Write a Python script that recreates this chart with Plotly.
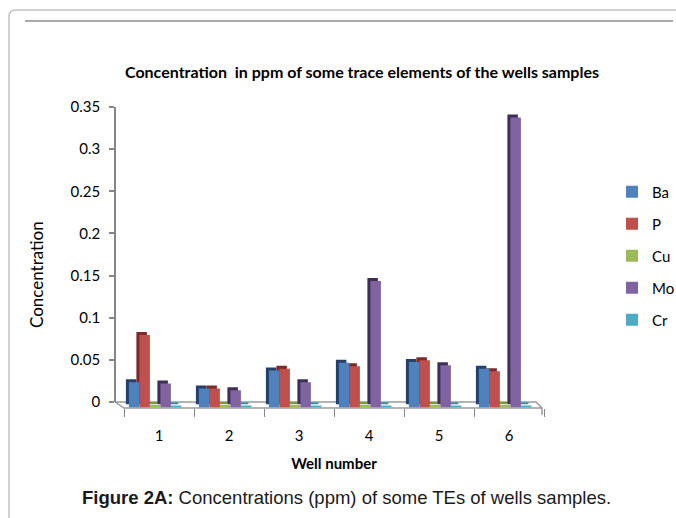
import plotly.graph_objects as go

# ---- data -------------------------------------------------------------
wells = ["1", "2", "3", "4", "5", "6"]
elements = ["Ba", "P", "Cu", "Mo", "Cr"]
ba = [0.030, 0.0225, 0.044, 0.053, 0.054, 0.046]
p = [0.086, 0.0225, 0.046, 0.049, 0.056, 0.043]
cu = [0.003, 0.003, 0.003, 0.003, 0.003, 0.003]
mo = [0.0285, 0.0205, 0.030, 0.150, 0.050, 0.344]
cr = [0.002, 0.002, 0.002, 0.002, 0.002, 0.002]
series = [ba, p, cu, mo, cr]

# ---- style ------------------------------------------------------------
face_colors = ["#4F81BD", "#C0504D", "#9BBB59", "#8064A2", "#4BACC6"]
side_colors = ["#24406B", "#7D2B29", "#7A9A40", "#3E2F57", "#2C8AA3"]
FONT = "Lato, Carlito, 'Open Sans', sans-serif"
W, H = 676, 518
ML, MR, MT, MB = 100, 120, 100, 100
PW, PH = W - ML - MR, H - MT - MB


def px_x(px):
    return (px - ML) / PW


def px_y(py):
    return (H - MB - py) / PH


bar_w = 0.15
depth_dx = 3 / 70.0  # extrusion shift toward the back, in category units

fig = go.Figure()

# back/side faces of the 3-D columns (drawn first, slightly up-left)
for i, (name, vals) in enumerate(zip(elements, series)):
    fig.add_trace(go.Bar(
        x=wells, y=vals, name=name, showlegend=False, hoverinfo="skip",
        xaxis="x", yaxis="y",
        width=bar_w, offset=-0.43 + bar_w * i - depth_dx,
        marker=dict(color=side_colors[i], line=dict(width=0)),
    ))

# front faces of the columns
for i, (name, vals) in enumerate(zip(elements, series)):
    fig.add_trace(go.Bar(
        x=wells, y=vals, name=name, legendgroup=name,
        xaxis="x", yaxis="y2",
        width=bar_w, offset=-0.43 + bar_w * i,
        marker=dict(color=face_colors[i], line=dict(width=0)),
    ))

# value axis on the back wall
fig.add_trace(go.Scatter(x=[], y=[], xaxis="x", yaxis="y3",
                         showlegend=False, hoverinfo="skip"))

axis_grey = "#868686"
hidden_y = dict(range=[0, 0.35], visible=False, showgrid=False, zeroline=False)

fig.update_layout(
    width=W, height=H,
    margin=dict(l=ML, r=MR, t=MT, b=MB, autoexpand=False),
    paper_bgcolor="white", plot_bgcolor="rgba(0,0,0,0)",
    barmode="overlay",
    font=dict(family=FONT, size=15, color="#000"),
    title=dict(
        text="<b>Concentration  in ppm of some trace elements of the wells samples</b>",
        x=362 / W, y=1 - 72 / H, xanchor="center", yanchor="middle",
        font=dict(family=FONT, size=16, color="#000"),
    ),
    xaxis=dict(
        type="category", range=[-0.5, 5.5],
        domain=[px_x(124), px_x(544)], anchor="y2",
        showline=False, showgrid=False, zeroline=False,
        ticks="outside", tickson="boundaries", ticklen=8,
        tickcolor=axis_grey, tickwidth=1,
        ticklabelstandoff=17,
        tickfont=dict(size=15),
        title=dict(text="<b>Well number</b>", standoff=15,
                   font=dict(size=15)),
    ),
    yaxis=dict(domain=[px_y(404.5), px_y(109.5)], anchor="x", **hidden_y),
    yaxis2=dict(domain=[px_y(407.5), px_y(112.5)], anchor="x", **hidden_y),
    yaxis3=dict(
        domain=[px_y(402), px_y(107)], anchor="free", position=px_x(115),
        range=[0, 0.35], dtick=0.05, tick0=0,
        showline=True, linecolor=axis_grey, linewidth=1.5,
        ticks="outside", ticklen=5, tickcolor=axis_grey, tickwidth=1.5,
        showgrid=False, zeroline=False,
        ticklabelstandoff=6,
        tickfont=dict(size=15),
    ),
    legend=dict(
        x=px_x(612), y=px_y(256), xanchor="left", yanchor="middle",
        traceorder="grouped", tracegroupgap=9.5,
        font=dict(size=15), bgcolor="rgba(0,0,0,0)",
    ),
)

# value-axis title
fig.add_annotation(
    text="Concentration", textangle=-90,
    xref="paper", yref="paper", x=px_x(36), y=px_y(275),
    xanchor="center", yanchor="middle", showarrow=False,
    font=dict(family=FONT, size=17, color="#000"),
)

# floor slab under the columns
floor_path = (
    f"M {px_x(115)},{px_y(402)} L {px_x(536)},{px_y(402)} "
    f"L {px_x(542)},{px_y(408)} L {px_x(542)},{px_y(415)} "
    f"M {px_x(542)},{px_y(408)} L {px_x(124)},{px_y(408)} "
    f"L {px_x(115)},{px_y(402)}"
)
fig.add_shape(type="path", path=floor_path, xref="paper", yref="paper",
              line=dict(color="#9a9a9a", width=1.5), layer="below")

# outer frame with a rounded corner and the rule beneath it
frame_path = (
    f"M {px_x(9)},{px_y(520)} L {px_x(9)},{px_y(17)} "
    f"Q {px_x(9)},{px_y(10)} {px_x(16)},{px_y(10)} L {px_x(680)},{px_y(10)}"
)
fig.add_shape(type="path", path=frame_path, xref="paper", yref="paper",
              line=dict(color="#c4c4c4", width=1.5), layer="below")
fig.add_shape(type="line", xref="paper", yref="paper",
              x0=px_x(25), x1=px_x(673), y0=px_y(21), y1=px_y(21),
              line=dict(color="#8c8c8c", width=1.5), layer="below")

# figure caption
fig.add_annotation(
    text="<b>Figure 2A:</b> Concentrations (ppm) of some TEs of wells samples.",
    xref="paper", yref="paper", x=px_x(346), y=px_y(497),
    xanchor="center", yanchor="middle", showarrow=False,
    font=dict(family="'Liberation Sans', Arial, sans-serif", size=18.5, color="#1a1a1a"),
)

fig.write_html("out.html")
